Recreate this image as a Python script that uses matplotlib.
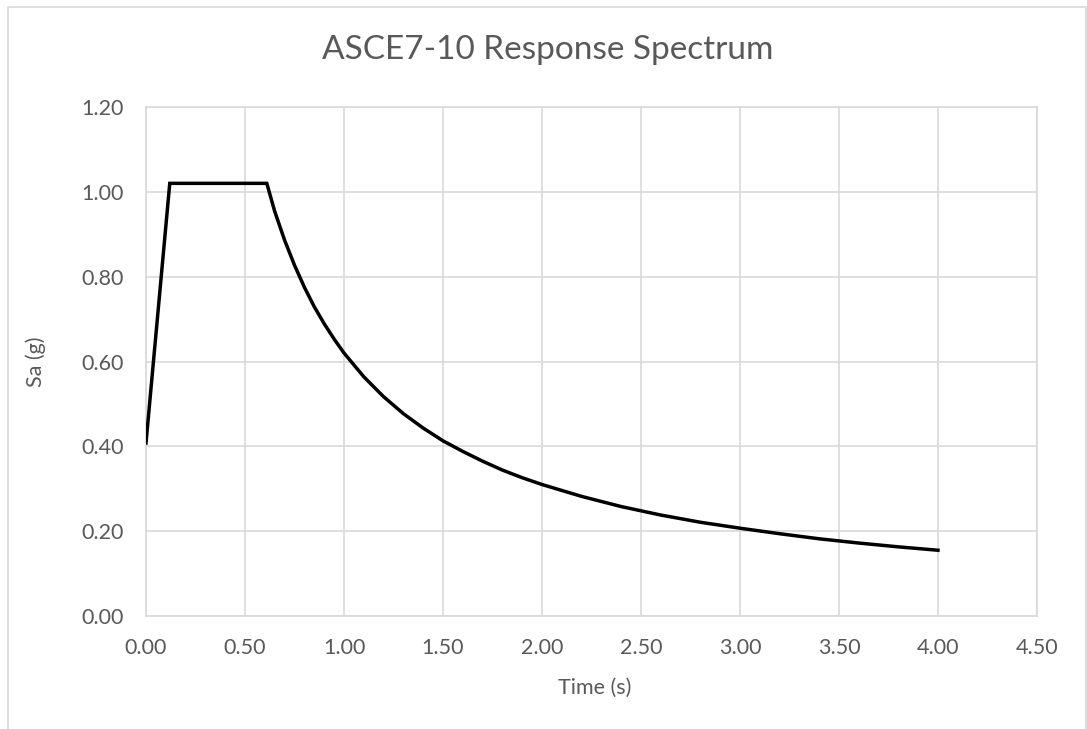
import matplotlib.pyplot as plt
from matplotlib.patches import Rectangle

# period (s) and spectral acceleration (g)
period = [0.00, 0.12, 0.61, 0.65, 0.70, 0.75, 0.80, 0.85, 0.90, 0.95, 1.00,
          1.10, 1.20, 1.30, 1.40, 1.50, 1.60, 1.70, 1.80, 1.90, 2.00,
          2.20, 2.40, 2.60, 2.80, 3.00, 3.20, 3.40, 3.60, 3.80, 4.00]
sa = [0.408, 1.020, 1.020, 0.954, 0.886, 0.827, 0.775, 0.729, 0.689, 0.653, 0.620,
      0.564, 0.517, 0.477, 0.443, 0.413, 0.388, 0.365, 0.344, 0.326, 0.310,
      0.282, 0.258, 0.238, 0.221, 0.207, 0.194, 0.182, 0.172, 0.163, 0.155]

x_ticks = [0.0, 0.5, 1.0, 1.5, 2.0, 2.5, 3.0, 3.5, 4.0, 4.5]
y_ticks = [0.0, 0.2, 0.4, 0.6, 0.8, 1.0, 1.2]

W, H = 1087, 729
text_color = "#595959"
grid_color = "#D9D9D9"
plt.rcParams["font.family"] = ["Lato", "DejaVu Sans"]

fig = plt.figure(figsize=(W / 100, H / 100), dpi=100)
ax = fig.add_axes([146 / W, 1 - 616 / H, (1037 - 146) / W, (616 - 107) / H])

# chart frame
fig.patches.append(Rectangle((7.5 / W, -0.05), (1085.5 - 7.5) / W, 1.05 - 7.5 / H,
                             transform=fig.transFigure, fill=False,
                             edgecolor=grid_color, linewidth=1.2))

ax.plot(period, sa, color="black", linewidth=2.5, solid_joinstyle="miter", zorder=3)

ax.set_xlim(0, 4.5)
ax.set_ylim(0, 1.2)
ax.set_xticks(x_ticks)
ax.set_yticks(y_ticks)
ax.set_xticklabels(["{:.2f}".format(v) for v in x_ticks])
ax.set_yticklabels(["{:.2f}".format(v) for v in y_ticks])
ax.tick_params(length=0, labelsize=15.5, colors=text_color)
ax.tick_params(axis="y", pad=16)
ax.tick_params(axis="x", pad=16)
ax.grid(True, color=grid_color, linewidth=1.2)
ax.set_axisbelow(True)
for s in ax.spines.values():
    s.set_color(grid_color)
    s.set_linewidth(1.2)

fig.text(548 / W, 1 - 50 / H, "ASCE7-10 Response Spectrum", ha="center", va="center",
         fontsize=24, color=text_color)
fig.text(595 / W, 1 - 688 / H, "Time (s)", ha="center", va="center",
         fontsize=15.5, color=text_color)
fig.text(36 / W, 1 - 362 / H, "Sa (g)", ha="center", va="center", rotation=90,
         fontsize=15.5, color=text_color)

fig.savefig("out.png", dpi=100)
